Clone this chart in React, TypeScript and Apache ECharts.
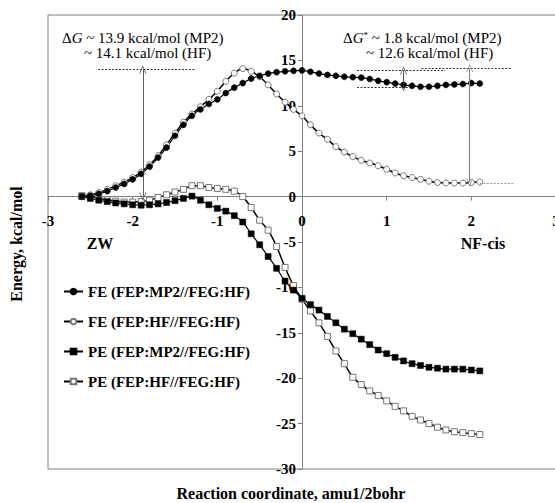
import React, { useEffect, useRef } from 'react';
import * as echarts from 'echarts';

const xs = [
  -2.6, -2.5, -2.4, -2.3, -2.2, -2.1, -2.0, -1.9, -1.8, -1.7, -1.6, -1.5, -1.4,
  -1.3, -1.2, -1.1, -1.0, -0.9, -0.8, -0.7, -0.6, -0.5, -0.4, -0.3, -0.2, -0.1,
  0.0, 0.1, 0.2, 0.3, 0.4, 0.5, 0.6, 0.7, 0.8, 0.9, 1.0, 1.1, 1.2, 1.3, 1.4, 1.5,
  1.6, 1.7, 1.8, 1.9, 2.0, 2.1,
];

const feMP2 = [
  0, 0.1, 0.3, 0.6, 1.0, 1.4, 1.9, 2.5, 3.3, 4.3, 5.4, 6.7, 7.9,
  8.9, 9.6, 10.2, 10.7, 11.4, 12.0, 12.5, 13.0, 13.3, 13.55, 13.7, 13.8, 13.85,
  13.9, 13.75, 13.55, 13.4, 13.3, 13.2, 13.15, 13.1, 12.95, 12.75, 12.6, 12.45, 12.3, 12.2, 12.1, 12.1,
  12.2, 12.3, 12.35, 12.4, 12.5, 12.45,
];

const feHF = [
  0, 0.2, 0.45, 0.8, 1.2, 1.6, 2.1, 2.7, 3.5, 4.5, 5.7, 7.0, 8.2,
  9.1, 9.9, 10.7, 11.6, 12.7, 13.6, 14.1, 13.8, 13.2, 12.3, 11.3, 10.4, 9.6,
  8.9, 7.9, 7.0, 6.3, 5.5, 4.9, 4.4, 4.0, 3.7, 3.4, 3.0, 2.6, 2.3, 2.1, 1.9, 1.7,
  1.55, 1.5, 1.5, 1.5, 1.55, 1.6,
];

const peMP2 = [
  0, -0.2, -0.4, -0.55, -0.7, -0.8, -0.9, -0.95, -0.9, -0.8, -0.65, -0.45, -0.2,
  0.05, -0.4, -0.9, -1.3, -1.6, -2.1, -2.8, -4.1, -5.3, -6.6, -7.9, -9.3, -10.3,
  -11.2, -11.9, -12.5, -13.2, -13.9, -14.6, -15.1, -15.7, -16.3, -16.9, -17.3, -17.7, -18.1, -18.4, -18.6, -18.8,
  -18.9, -19.0, -19.0, -19.0, -19.1, -19.2,
];

const peHF = [
  0.1, 0, -0.2, -0.35, -0.5, -0.6, -0.6, -0.55, -0.4, -0.1, 0.2, 0.5, 0.8,
  1.2, 1.2, 1.0, 0.9, 0.8, 0.6, 0.0, -1.2, -2.6, -3.7, -5.5, -7.8, -9.8,
  -11.3, -12.6, -13.9, -15.4, -17.0, -18.4, -19.9, -20.7, -21.4, -21.9, -22.5, -23.1, -23.6, -24.2, -24.6, -25.0,
  -25.4, -25.7, -25.9, -26.0, -26.1, -26.2,
];

const seriesNames = [
  'FE (FEP:MP2//FEG:HF)',
  'FE (FEP:HF//FEG:HF)',
  'PE (FEP:MP2//FEG:HF)',
  'PE (FEP:HF//FEG:HF)',
];

const X_MIN = -3;
const X_MAX = 3;
const Y_MIN = -30;
const Y_MAX = 20;

const SERIF = 'Liberation Serif';

// annotation guide segments in data units: [x1, y1, x2, y2]
const dashedGuides = [
  [-2.41, 14.0, -1.27, 14.0],
  [0.65, 13.9, 1.69, 13.9],
  [1.41, 14.15, 2.47, 14.15],
  [0.65, 12.05, 1.25, 12.05],
];
const grayGuide = [2.1, 1.5, 2.5, 1.5];
const arrowLeft = [-1.88, 14.0, -1.88, 0.0];
const arrowSmall = [1.2, 13.9, 1.2, 12.05];
const arrowBig = [1.98, 14.15, 1.98, 1.55];

const ARROW = 'path://M0,10 L5,0 L10,10 L9,10 L5,1.8 L1,10 Z';

const GRID = { left: 48, top: 15, width: 508, height: 454 };

export default function App() {
  const ref = useRef<HTMLDivElement>(null);
  useEffect(() => {
    if (!ref.current) return;
    const chart = echarts.init(ref.current, undefined, { renderer: 'svg' });

    // place axes through the origin (crossing at 0), like the source chart
    const xAxisOffset = -((0 - Y_MIN) / (Y_MAX - Y_MIN)) * GRID.height;
    const yAxisOffset = -((0 - X_MIN) / (X_MAX - X_MIN)) * GRID.width;

    const seg = (s: number[], style: any, arrows: boolean) => [
      { coord: [s[0], s[1]], symbol: arrows ? ARROW : 'none', symbolSize: [7, 8], lineStyle: style },
      { coord: [s[2], s[3]], symbol: arrows ? ARROW : 'none', symbolSize: [7, 8] },
    ];

    const mk = (name: string, vals: number[], symbol: string, filled: boolean, extra: any = {}) => ({
      name,
      type: 'line',
      data: xs.map((x, i) => [x, vals[i]]),
      symbol,
      symbolSize: 6,
      showAllSymbol: true,
      smooth: 0.3,
      lineStyle: { color: '#000', width: filled ? 1.2 : 1.5 },
      itemStyle: filled
        ? { color: '#000', borderColor: '#000', borderWidth: 0.5 }
        : { color: '#fff', borderColor: '#777', borderWidth: 1 },
      emphasis: { disabled: true },
      ...extra,
    });

    const labelStyle = {
      color: '#000',
      fontFamily: SERIF,
      fontWeight: 'bold',
      fontSize: 15,
    };

    const option: any = {
      animation: false,
      backgroundColor: '#fff',
      grid: {
        ...GRID,
        show: true,
        borderColor: '#808080',
        borderWidth: 1,
        containLabel: false,
        outerBoundsMode: 'none',
      },
      xAxis: {
        type: 'value',
        min: X_MIN,
        max: X_MAX,
        interval: 1,
        position: 'bottom',
        offset: xAxisOffset,
        axisLine: { onZero: false, lineStyle: { color: '#808080', width: 1 } },
        axisTick: { show: true, length: 4, lineStyle: { color: '#808080' } },
        axisLabel: { ...labelStyle, margin: 17 },
        splitLine: { show: false },
      },
      yAxis: {
        type: 'value',
        min: Y_MIN,
        max: Y_MAX,
        interval: 5,
        position: 'left',
        offset: yAxisOffset,
        axisLine: { show: true, onZero: false, lineStyle: { color: '#808080', width: 1 } },
        axisTick: { show: true, length: 4, lineStyle: { color: '#808080' } },
        axisLabel: { ...labelStyle, margin: 6 },
        splitLine: { show: false },
      },
      legend: {
        orient: 'vertical',
        left: 58,
        top: 279,
        itemWidth: 19,
        itemHeight: 7,
        itemGap: 15,
        data: seriesNames,
        textStyle: { fontFamily: SERIF, fontWeight: 'bold', fontSize: 15, color: '#000' },
        selectedMode: false,
      },
      series: [
        mk(seriesNames[3], peHF, 'rect', false),
        mk(seriesNames[2], peMP2, 'rect', true),
        mk(seriesNames[1], feHF, 'circle', false),
        mk(seriesNames[0], feMP2, 'circle', true, {
          markLine: {
            silent: true,
            animation: false,
            symbol: ['none', 'none'],
            label: { show: false },
            emphasis: { disabled: true },
            data: [
              ...dashedGuides.map((s) => seg(s, { color: '#000', width: 0.8, type: [2, 1.5] }, false)),
              seg(grayGuide, { color: '#999', width: 1, type: [2, 1.5] }, false),
              seg(arrowLeft, { color: '#333', width: 0.8, type: 'solid' }, true),
              seg(arrowSmall, { color: '#333', width: 0.8, type: 'solid' }, true),
              seg(arrowBig, { color: '#888', width: 1.2, type: 'solid' }, true),
            ],
          },
        }),
      ],
      graphic: [
        {
          type: 'text',
          x: 62,
          y: 38,
          style: {
            text: '{n|Δ}{i|G}{n| ~ 13.9 kcal/mol (MP2)}',
            textVerticalAlign: 'middle',
            rich: {
              n: { fontFamily: SERIF, fontSize: 15, fill: '#000', color: '#000' },
              i: { fontFamily: SERIF, fontSize: 15, fontStyle: 'italic', fill: '#000', color: '#000' },
            },
          },
        },
        {
          type: 'text',
          x: 84,
          y: 53,
          style: { text: '~ 14.1 kcal/mol (HF)', font: `15px ${SERIF}`, fill: '#000', textVerticalAlign: 'middle' },
        },
        {
          type: 'text',
          x: 343,
          y: 38,
          style: {
            text: '{n|Δ}{i|G}{s|*}{n| ~ 1.8 kcal/mol (MP2)}',
            textVerticalAlign: 'middle',
            rich: {
              n: { fontFamily: SERIF, fontSize: 15, fill: '#000', color: '#000' },
              i: { fontFamily: SERIF, fontSize: 15, fontStyle: 'italic', fill: '#000', color: '#000' },
              s: { fontFamily: SERIF, fontSize: 9, fill: '#000', color: '#000', verticalAlign: 'top', padding: [0, 0, 6, 0] },
            },
          },
        },
        {
          type: 'text',
          x: 366,
          y: 53,
          style: { text: '~ 12.6 kcal/mol (HF)', font: `15px ${SERIF}`, fill: '#000', textVerticalAlign: 'middle' },
        },
        {
          type: 'text',
          x: 100,
          y: 243,
          style: { text: 'ZW', font: `bold 16px ${SERIF}`, fill: '#000', textAlign: 'center', textVerticalAlign: 'middle' },
        },
        {
          type: 'text',
          x: 483,
          y: 243,
          style: { text: 'NF-cis', font: `bold 16px ${SERIF}`, fill: '#000', textAlign: 'center', textVerticalAlign: 'middle' },
        },
        {
          type: 'text',
          x: 16,
          y: 244,
          rotation: Math.PI / 2,
          style: { text: 'Energy, kcal/mol', font: `bold 16px ${SERIF}`, fill: '#000', textAlign: 'center', textVerticalAlign: 'middle' },
        },
        {
          type: 'text',
          x: 291,
          y: 493,
          style: { text: 'Reaction coordinate, amu1/2bohr', font: `bold 16px ${SERIF}`, fill: '#000', textAlign: 'center', textVerticalAlign: 'middle' },
        },
      ],
    };
    chart.setOption(option);
    return () => chart.dispose();
  }, []);
  return (
    <div
      ref={ref}
      style={{ position: 'fixed', left: 0, top: 0, width: 555, height: 503, background: '#fff' }}
    />
  );
}
